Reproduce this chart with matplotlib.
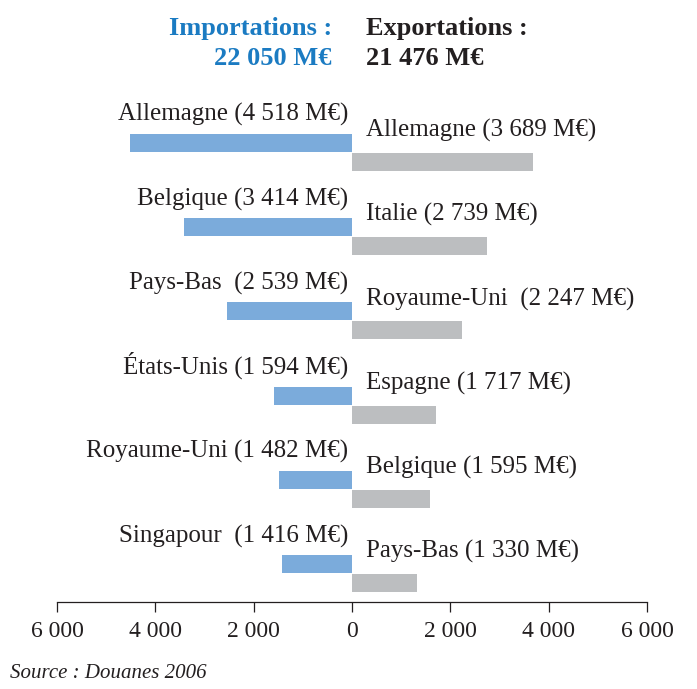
import matplotlib.pyplot as plt

plt.rcParams["font.family"] = ["Liberation Serif", "DejaVu Serif"]

# ---------- DATA ----------
import_countries = ["Allemagne", "Belgique", "Pays-Bas ", "États-Unis", "Royaume-Uni", "Singapour "]
import_values = [4518, 3414, 2539, 1594, 1482, 1416]
export_countries = ["Allemagne", "Italie", "Royaume-Uni ", "Espagne", "Belgique", "Pays-Bas"]
export_values = [3689, 2739, 2247, 1717, 1595, 1330]
total_import = 22050
total_export = 21476
tick_values = [-6000, -4000, -2000, 0, 2000, 4000, 6000]

BLUE_BAR = "#7BABDB"
GREY_BAR = "#BCBEC0"
BLUE_TXT = "#1B7BC2"
DARK = "#231F20"


def fmt(v):
    return f"{abs(v):,}".replace(",", " ")


fig = plt.figure(figsize=(6.97, 6.89), dpi=100)
ax = fig.add_axes([0.0818, 0.1263, 0.8465, 0.7286])

bar_h = 0.215
offset = 0.226
rows = range(len(import_values))

# imports to the left (negative), exports to the right, slightly lower
for i in rows:
    ax.barh(i, -import_values[i], height=bar_h, color=BLUE_BAR, align="center")
    ax.barh(i + offset, export_values[i], height=bar_h, color=GREY_BAR, align="center")
    ax.text(-80, i - 0.26, f"{import_countries[i]} ({fmt(import_values[i])} M€)",
            ha="right", va="baseline", fontsize=18, color=DARK)
    ax.text(285, i + offset - 0.30, f"{export_countries[i]} ({fmt(export_values[i])} M€)",
            ha="left", va="baseline", fontsize=18, color=DARK)

ax.set_xlim(-6000, 6000)
ax.set_ylim(5.45, -0.51)

for side in ["top", "left", "right"]:
    ax.spines[side].set_visible(False)
ax.spines["bottom"].set_color(DARK)
ax.spines["bottom"].set_linewidth(0.9)
ax.set_yticks([])
ax.set_xticks(tick_values)
ax.set_xticklabels([fmt(v) for v in tick_values])
ax.tick_params(axis="x", direction="out", length=7.5, width=0.9, color=DARK,
               labelsize=17, labelcolor=DARK, pad=6)

# header totals
fig.text(332 / 697, 1 - 35 / 689, "Importations :", ha="right", va="baseline",
         fontsize=19, fontweight="bold", color=BLUE_TXT)
fig.text(332 / 697, 1 - 65 / 689, f"{fmt(total_import)} M€", ha="right", va="baseline",
         fontsize=19, fontweight="bold", color=BLUE_TXT)
fig.text(366 / 697, 1 - 35 / 689, "Exportations :", ha="left", va="baseline",
         fontsize=19, fontweight="bold", color=DARK)
fig.text(366 / 697, 1 - 65 / 689, f"{fmt(total_export)} M€", ha="left", va="baseline",
         fontsize=19, fontweight="bold", color=DARK)

fig.text(10 / 697, 1 - 678 / 689, "Source : Douanes 2006", ha="left", va="baseline",
         fontsize=15, style="italic", color=DARK)

fig.savefig("out.png", dpi=100)
